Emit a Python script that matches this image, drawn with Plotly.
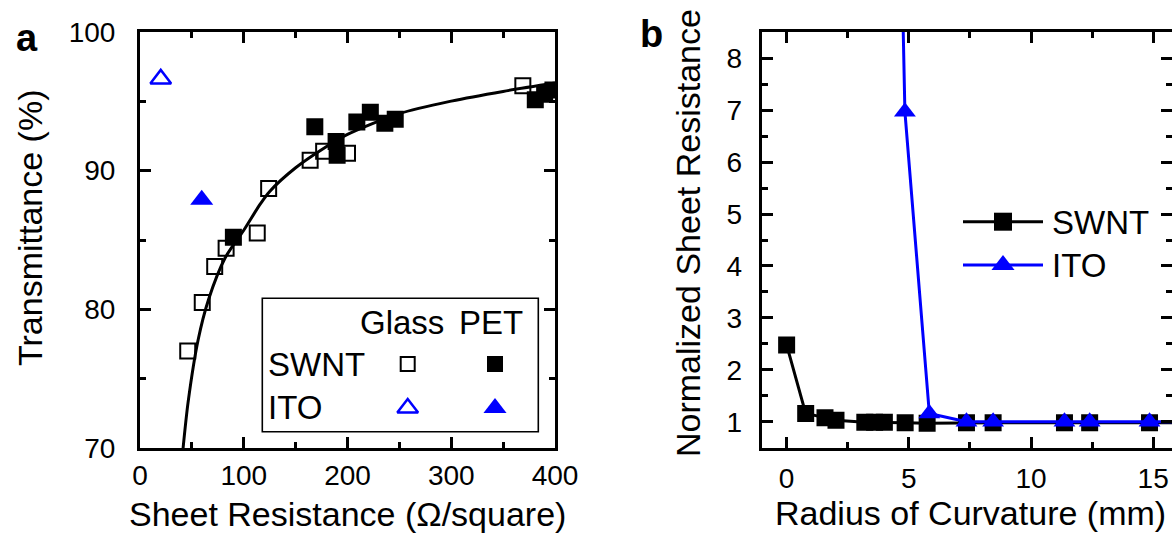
import plotly.graph_objects as go

# ---------------- data: panel a ----------------
glass_swnt_R = [46, 60, 72, 83, 113, 124, 164, 177, 200, 369]
glass_swnt_T = [77.0, 80.5, 83.1, 84.4, 85.5, 88.7, 90.75, 91.4, 91.25, 96.1]

pet_swnt_R = [90, 168.5, 189, 190, 209, 222, 236, 246, 381, 390, 398]
pet_swnt_T = [85.2, 93.15, 92.1, 91.1, 93.5, 94.2, 93.4, 93.7, 95.1, 95.5, 95.8]

glass_ito_R = [20]
glass_ito_T = [96.6]
pet_ito_R = [59.5]
pet_ito_T = [87.9]

fit_R = [41.5, 46.5, 56, 66, 82, 100, 116, 125, 150, 175, 200, 250, 300, 350, 400]
fit_T = [70.0, 73.4, 77.8, 80.7, 83.7, 85.7, 87.6, 88.5, 90.2, 91.5, 92.6, 94.1, 95.0, 95.7, 96.3]

a_xticks = [0, 100, 200, 300, 400]
a_yticks = [70, 80, 90, 100]

# ---------------- data: panel b ----------------
swnt_radius = [0, 0.78, 1.57, 2.02, 3.2, 3.6, 4.0, 4.85, 5.75, 7.36, 8.45, 11.37, 12.4, 14.85, 16.5]
swnt_norm = [2.48, 1.16, 1.08, 1.03, 0.99, 0.99, 0.99, 0.98, 0.97, 0.98, 0.98, 0.98, 0.98, 0.98, 0.98]

ito_radius = [4.0, 4.84, 5.84, 7.36, 8.45, 11.37, 12.4, 14.85, 16.5]
ito_norm = [26.0, 6.97, 1.16, 1.0, 1.0, 1.0, 1.0, 1.0, 1.0]

b_xticks = [0, 5, 10, 15]
b_yticks = [1, 2, 3, 4, 5, 6, 7, 8]

BLUE = "#0000FF"
FONT = "Liberation Sans, Arial, sans-serif"
W, H = 1172, 537

fig = go.Figure()

# panel a traces
fig.add_trace(go.Scatter(x=fit_R, y=fit_T, mode="lines", line=dict(color="black", width=3, shape="spline", smoothing=0.8),
                         xaxis="x", yaxis="y", showlegend=False))
fig.add_trace(go.Scatter(x=glass_swnt_R, y=glass_swnt_T, mode="markers",
                         marker=dict(symbol="square-open", size=15, color="black", line=dict(width=2)),
                         xaxis="x", yaxis="y", showlegend=False))
fig.add_trace(go.Scatter(x=pet_swnt_R, y=pet_swnt_T, mode="markers",
                         marker=dict(symbol="square", size=17, color="black", line=dict(width=0)),
                         xaxis="x", yaxis="y", showlegend=False))
fig.add_trace(go.Scatter(x=glass_ito_R, y=glass_ito_T, mode="markers",
                         marker=dict(symbol="triangle-up-open", size=18, color=BLUE, line=dict(width=2.5)),
                         xaxis="x", yaxis="y", showlegend=False))
fig.add_trace(go.Scatter(x=pet_ito_R, y=pet_ito_T, mode="markers",
                         marker=dict(symbol="triangle-up", size=20, color=BLUE, line=dict(width=0)),
                         xaxis="x", yaxis="y", showlegend=False))

# panel b traces
fig.add_trace(go.Scatter(x=swnt_radius, y=swnt_norm, mode="lines+markers",
                         line=dict(color="black", width=3),
                         marker=dict(symbol="square", size=17, color="black"),
                         xaxis="x2", yaxis="y2", showlegend=False))
fig.add_trace(go.Scatter(x=ito_radius, y=ito_norm, mode="lines+markers",
                         line=dict(color=BLUE, width=3),
                         marker=dict(symbol="triangle-up", size=19, color=BLUE),
                         xaxis="x2", yaxis="y2", showlegend=False))

# ---------------- legends drawn on a full-figure pixel axis ----------------
# panel a legend (glass / PET grid)
fig.add_trace(go.Scatter(x=[407.7], y=[364], mode="markers",
                         marker=dict(symbol="square-open", size=14, color="black", line=dict(width=2)),
                         xaxis="x3", yaxis="y3", showlegend=False))
fig.add_trace(go.Scatter(x=[495], y=[364], mode="markers",
                         marker=dict(symbol="square", size=16, color="black"),
                         xaxis="x3", yaxis="y3", showlegend=False))
fig.add_trace(go.Scatter(x=[407.7], y=[408], mode="markers",
                         marker=dict(symbol="triangle-up-open", size=18, color=BLUE, line=dict(width=2.5)),
                         xaxis="x3", yaxis="y3", showlegend=False))
fig.add_trace(go.Scatter(x=[495], y=[408], mode="markers",
                         marker=dict(symbol="triangle-up", size=20, color=BLUE),
                         xaxis="x3", yaxis="y3", showlegend=False))
# panel b legend
fig.add_trace(go.Scatter(x=[963, 1043], y=[221.7, 221.7], mode="lines",
                         line=dict(color="black", width=3),
                         xaxis="x3", yaxis="y3", showlegend=False))
fig.add_trace(go.Scatter(x=[1003], y=[221.7], mode="markers",
                         marker=dict(symbol="square", size=18, color="black"),
                         xaxis="x3", yaxis="y3", showlegend=False))
fig.add_trace(go.Scatter(x=[963, 1043], y=[265, 265], mode="lines",
                         line=dict(color=BLUE, width=3),
                         xaxis="x3", yaxis="y3", showlegend=False))
fig.add_trace(go.Scatter(x=[1003], y=[265], mode="markers",
                         marker=dict(symbol="triangle-up", size=20, color=BLUE),
                         xaxis="x3", yaxis="y3", showlegend=False))

tickfont = dict(family=FONT, size=28, color="black")

def px_dom_x(a, b):
    return [a / W, b / W]

def px_dom_y(top, bottom):
    return [1 - bottom / H, 1 - top / H]

axis_common = dict(showline=True, linecolor="black", linewidth=3, mirror="ticks",
                   ticks="inside", ticklen=11, tickwidth=2.5, tickcolor="black",
                   showgrid=False, zeroline=False, tickfont=tickfont, automargin=False)

fig.update_layout(
    width=W, height=H,
    margin=dict(l=0, r=0, t=0, b=0, pad=0, autoexpand=False),
    paper_bgcolor="white", plot_bgcolor="rgba(0,0,0,0)",
    font=dict(family=FONT, color="black"),
    xaxis=dict(domain=px_dom_x(140, 555), range=[0, 400], tickvals=a_xticks, anchor="y",
               minor=dict(ticks="inside", ticklen=6, tickwidth=2.5, dtick=50, tickcolor="black"),
               ticklabelstandoff=0, **axis_common),
    yaxis=dict(domain=px_dom_y(31.7, 448.3), range=[70, 100], tickvals=a_yticks, anchor="x",
               minor=dict(ticks="inside", ticklen=6, tickwidth=2.5, dtick=5, tickcolor="black"),
               ticklabelstandoff=16, **axis_common),
    xaxis2=dict(domain=px_dom_x(761.7, 1172), range=[-1.02, 15.77], tickvals=b_xticks, anchor="y2",
                minor=dict(ticks="inside", ticklen=6, tickwidth=2.5, dtick=2.5, tickcolor="black"),
                ticklabelstandoff=3, **axis_common),
    yaxis2=dict(domain=px_dom_y(31.7, 448.3), range=[0.49, 8.51], tickvals=b_yticks, anchor="x2",
                minor=dict(ticks="inside", ticklen=6, tickwidth=2.5, dtick=0.5, tickcolor="black"),
                ticklabelstandoff=11, **axis_common),
    xaxis3=dict(domain=[0, 1], range=[0, W], visible=False, anchor="y3", fixedrange=True, automargin=False),
    yaxis3=dict(domain=[0, 1], range=[H, 0], visible=False, anchor="x3", fixedrange=True, automargin=False),
)

# legend box panel a
fig.add_shape(type="rect", xref="x3", yref="y3", x0=262.3, x1=538.3, y0=298.3, y1=431.7,
              line=dict(color="black", width=1.6), fillcolor="rgba(0,0,0,0)")

def ann(text, x, y, size, xanchor="center", yanchor="middle", angle=0, bold=False):
    fig.add_annotation(text=f"<b>{text}</b>" if bold else text, x=x, y=y, xref="x3", yref="y3",
                       showarrow=False, xanchor=xanchor, yanchor=yanchor, textangle=angle,
                       font=dict(family=FONT, size=size, color="black"))

LEG = 33
ann("Glass", 402, 322, LEG)
ann("PET", 491, 322, LEG)
ann("SWNT", 266, 364, LEG, xanchor="left")
ann("ITO", 266, 407, LEG, xanchor="left")
ann("SWNT", 1050, 222, LEG, xanchor="left")
ann("ITO", 1050, 265, LEG, xanchor="left")

# axis titles
TIT = 34
ann("Sheet Resistance (\u03a9/square)", 347, 514, TIT)
ann("Transmittance (%)", 30, 228, TIT, angle=-90)
ann("Radius of Curvature (mm)", 970, 513, TIT)
ann("Normalized Sheet Resistance", 688, 233, TIT, angle=-90)

# panel labels
ann("a", 27, 38, 38, bold=True)
ann("b", 651, 34, 38, bold=True)

fig.write_html("out.html")
